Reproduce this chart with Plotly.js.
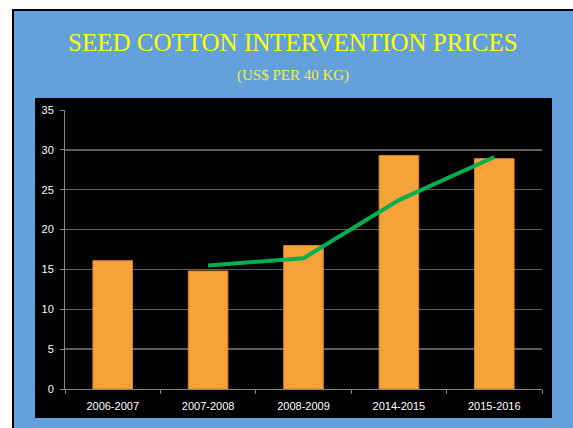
<!DOCTYPE html>
<html>
<head>
<meta charset="utf-8">
<script src="https://cdn.plot.ly/plotly-3.0.1.min.js"></script>
<style>
  html, body { margin: 0; padding: 0; background: #ffffff; }
  #frame { position: absolute; left: 12px; top: 9px; width: 561px; height: 419px;
           border-left: 2px solid #000; border-top: 2px solid #000; background: #63a0dc; box-sizing: border-box; }
  #chart { position: absolute; left: 0; top: 0; width: 573px; height: 428px; }
</style>
</head>
<body>
<div id="frame"></div>
<div id="chart"></div>
<script>
const seasons = ["2006-2007", "2007-2008", "2008-2009", "2014-2015", "2015-2016"];
const barValues = [16.1, 14.8, 18.0, 29.3, 28.9];
const lineSeasons = ["2007-2008", "2008-2009", "2014-2015", "2015-2016"];
const lineValues = [15.5, 16.4, 23.7, 29.1];
const yTicks = [0, 5, 10, 15, 20, 25, 30, 35];
const titleText = "SEED COTTON INTERVENTION PRICES";
const subtitleText = "(US$ PER 40 KG)";

const traces = [
  {
    type: "bar",
    x: seasons,
    y: barValues,
    marker: { color: "#f7a139", line: { color: "#d5832b", width: 1 } },
    hoverinfo: "x+y"
  },
  {
    type: "scatter",
    mode: "lines",
    x: lineSeasons,
    y: lineValues,
    line: { color: "#00b050", width: 4 },
    hoverinfo: "x+y"
  }
];

const layout = {
  width: 573,
  height: 428,
  margin: { l: 65, r: 31, t: 110, b: 39 },
  paper_bgcolor: "rgba(0,0,0,0)",
  plot_bgcolor: "#000000",
  showlegend: false,
  bargap: 0.585,
  title: {
    text: titleText,
    font: { family: "Liberation Serif, Times New Roman, serif", size: 25, color: "#ffff00" },
    x: 0.511, xref: "container", xanchor: "center",
    y: 0.902, yref: "container", yanchor: "middle"
  },
  annotations: [
    {
      text: subtitleText, showarrow: false,
      xref: "paper", yref: "paper",
      x: (293 - 65) / 477, y: (389 - 76) / 279,
      xanchor: "center", yanchor: "middle",
      font: { family: "Liberation Serif, Times New Roman, serif", size: 15, color: "#f0ef3c" }
    }
  ],
  shapes: [
    {
      type: "rect", xref: "paper", yref: "paper", layer: "below",
      x0: (35 - 65) / 477, x1: (552 - 65) / 477,
      y0: (389 - 418) / 279, y1: (389 - 98) / 279,
      fillcolor: "#000000", line: { width: 0 }
    }
  ],
  xaxis: {
    type: "category",
    showgrid: false,
    showline: true, linecolor: "#868686", linewidth: 1,
    ticks: "outside", tickson: "boundaries", ticklen: 4, tickcolor: "#868686",
    ticklabelstandoff: 7,
    tickfont: { family: "Liberation Sans, Arial, sans-serif", size: 11, color: "#ffffff" },
    zeroline: false,
    fixedrange: true
  },
  yaxis: {
    range: [0, 35],
    tickvals: yTicks,
    ticktext: yTicks.map(String),
    showgrid: true, gridcolor: "#5e5e5e", gridwidth: 1.5,
    showline: true, linecolor: "#868686", linewidth: 1,
    ticks: "outside", ticklen: 4, tickcolor: "#868686",
    ticklabelstandoff: 4,
    tickfont: { family: "Liberation Sans, Arial, sans-serif", size: 11, color: "#ffffff" },
    zeroline: false,
    fixedrange: true
  }
};

Plotly.newPlot("chart", traces, layout, { displayModeBar: false, staticPlot: true });
</script>
</body>
</html>
